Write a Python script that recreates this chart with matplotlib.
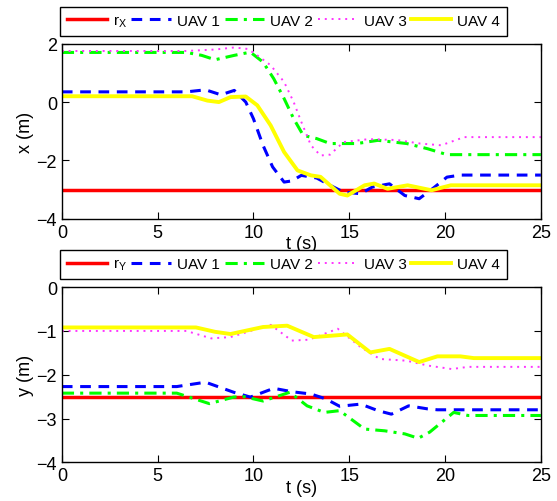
import numpy as np
import matplotlib.pyplot as plt

plt.rcParams['font.family'] = ['Liberation Sans', 'DejaVu Sans']
plt.rcParams['mathtext.fontset'] = 'custom'
plt.rcParams['mathtext.rm'] = 'Liberation Sans'
plt.rcParams['mathtext.it'] = 'Liberation Sans'

# reference positions
ref_x = -3.0
ref_y = -2.5
t_end = 25

# x position (m)
t_uav1_x = [0, 6.5, 7.5, 8.3, 9.0, 9.6, 10.0, 10.5, 11.0, 11.6, 12.0, 12.5, 13.3, 14.0, 14.7, 15.6, 16.2, 17.1, 17.9, 18.65, 19.4, 20.1, 20.8, 25]
x_uav1 = [0.35, 0.35, 0.42, 0.25, 0.40, 0.0, -0.57, -1.48, -2.22, -2.74, -2.7, -2.51, -2.6, -2.85, -3.08, -3.14, -2.91, -2.8, -3.2, -3.31, -2.94, -2.57, -2.5, -2.5]

t_uav2_x = [0, 6.5, 7.3, 8.0, 9.0, 9.84, 10.5, 11.06, 11.6, 12.1, 12.6, 13.3, 14.0, 15.4, 16.5, 18.0, 19.1, 20.1, 25]
x_uav2 = [1.7, 1.7, 1.6, 1.45, 1.6, 1.71, 1.37, 0.8, 0.12, -0.57, -1.14, -1.25, -1.42, -1.42, -1.31, -1.42, -1.6, -1.8, -1.8]

t_uav3_x = [0, 6.5, 8.0, 9.0, 9.7, 10.2, 10.9, 11.6, 12.1, 12.5, 13.0, 13.5, 14.0, 14.7, 16.0, 17.5, 18.7, 19.8, 21.0, 25]
x_uav3 = [1.75, 1.75, 1.8, 1.87, 1.82, 1.6, 1.26, 0.69, 0.0, -0.68, -1.48, -1.83, -1.8, -1.37, -1.27, -1.3, -1.42, -1.48, -1.2, -1.2]

t_uav4_x = [0, 6.8, 7.6, 8.2, 8.8, 9.6, 10.2, 10.9, 11.6, 12.3, 13.0, 13.5, 14.0, 14.5, 14.9, 15.8, 16.3, 17.0, 18.05, 19.3, 20.3, 21.0, 25]
x_uav4 = [0.2, 0.2, 0.05, 0.0, 0.17, 0.19, -0.11, -0.8, -1.71, -2.34, -2.51, -2.56, -2.85, -3.14, -3.2, -2.85, -2.79, -2.97, -2.85, -3.02, -2.85, -2.85, -2.85]

# y position (m)
t_uav1_y = [0, 6.0, 7.5, 8.97, 9.84, 11.06, 12.05, 13.0, 13.77, 14.5, 15.6, 16.5, 17.2, 18.1, 19.1, 19.6, 21.5, 25]
y_uav1 = [-2.27, -2.27, -2.17, -2.4, -2.51, -2.31, -2.39, -2.44, -2.55, -2.72, -2.67, -2.82, -2.9, -2.71, -2.78, -2.8, -2.8, -2.8]

t_uav2_y = [0, 6.0, 7.7, 8.97, 9.5, 10.5, 11.9, 12.8, 13.7, 14.5, 15.8, 16.85, 17.9, 18.6, 19.2, 20.45, 21.2, 25]
y_uav2 = [-2.42, -2.42, -2.66, -2.51, -2.5, -2.6, -2.4, -2.71, -2.86, -2.82, -3.24, -3.28, -3.35, -3.45, -3.31, -2.86, -2.93, -2.93]

t_uav3_y = [0, 6.5, 7.8, 8.8, 10.9, 12.0, 12.9, 14.4, 15.6, 16.6, 18.0, 19.1, 20.35, 21.2, 25]
y_uav3 = [-1.0, -1.0, -1.17, -1.14, -0.86, -1.22, -1.2, -0.95, -1.37, -1.64, -1.68, -1.79, -1.87, -1.82, -1.82]

t_uav4_y = [0, 7.0, 8.0, 8.8, 10.5, 11.76, 13.15, 14.9, 16.1, 17.1, 18.65, 19.6, 20.8, 21.5, 25]
y_uav4 = [-0.92, -0.92, -1.02, -1.07, -0.91, -0.88, -1.14, -1.08, -1.49, -1.41, -1.71, -1.58, -1.58, -1.62, -1.62]

styles = [
    dict(color='blue', ls=(0, (3.5, 2.5)), lw=2.2, label='UAV 1'),
    dict(color=(0, 1, 0), ls=(0, (4, 2, 1, 2)), lw=2.2, label='UAV 2'),
    dict(color=(1, 0.2, 1), ls=(0, (1, 2.5)), lw=1.4, label='UAV 3'),
    dict(color=(1, 1, 0), ls='-', lw=2.8, label='UAV 4'),
]

fig = plt.figure(figsize=(5.57, 5.02), dpi=100)
ax1 = fig.add_axes([0.111, 0.562, 0.860, 0.349])
ax2 = fig.add_axes([0.111, 0.077, 0.860, 0.349])

panels = [
    (ax1, ref_x, r'r$_\mathregular{X}$',
     [(t_uav1_x, x_uav1), (t_uav2_x, x_uav2), (t_uav3_x, x_uav3), (t_uav4_x, x_uav4)],
     'x (m)', (-4, 2), [-4, -2, 0, 2]),
    (ax2, ref_y, r'r$_\mathregular{Y}$',
     [(t_uav1_y, y_uav1), (t_uav2_y, y_uav2), (t_uav3_y, y_uav3), (t_uav4_y, y_uav4)],
     'y (m)', (-4, 0), [-4, -3, -2, -1, 0]),
]

for ax, ref, ref_label, series, ylab, ylim, yticks in panels:
    ax.plot([0, t_end], [ref, ref], color='red', lw=2.5, label=ref_label)
    for (t, v), st in zip(series, styles):
        ax.plot(t, v, **st)
    ax.set_xlim(0, t_end)
    ax.set_ylim(*ylim)
    ax.set_xticks([0, 5, 10, 15, 20, 25])
    ax.set_yticks(yticks)
    ax.tick_params(direction='in', top=True, right=True, labelsize=13, length=5)
    ax.set_xlabel('t (s)', fontsize=13, labelpad=-4)
    ax.set_ylabel(ylab, fontsize=13, labelpad=2)
    for s in ax.spines.values():
        s.set_linewidth(1.0)
    leg = ax.legend(loc='lower left', bbox_to_anchor=(-0.004, 1.045), ncol=5,
                    fontsize=11, frameon=True, fancybox=False, edgecolor='black',
                    framealpha=1, handlelength=2.6, columnspacing=0.3,
                    handletextpad=0.4, borderpad=0.45, borderaxespad=0)
    leg.get_frame().set_linewidth(1.0)

fig.savefig('out.png', dpi=100)
